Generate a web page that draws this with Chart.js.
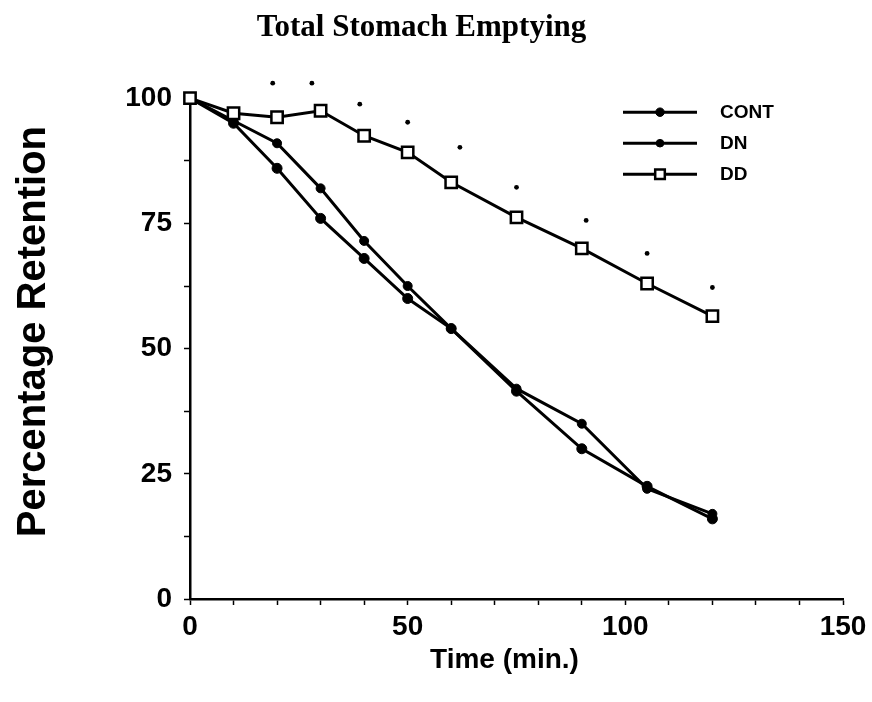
<!DOCTYPE html>
<html lang="en">
<head>
    <meta charset="UTF-8">
    <title>Total Stomach Emptying</title>
    <script src="https://cdn.jsdelivr.net/npm/chart.js"></script>
    <style>
        body {
            margin: 0;
            background: white;
        }
        canvas {
            display: block;
        }
    </style>
</head>
<body>
    <canvas id="emptyingChart" width="872" height="702"></canvas>
    <script>
        // sampling times (min.)
        const times = [0, 10, 20, 30, 40, 50, 60, 75, 90, 105, 120];

        // percentage retention per group
        const contValues = [100, 95, 86, 76, 68, 60, 54, 41.5, 30, 22.5, 16];
        const dnValues = [100, 95.5, 91, 82, 71.5, 62.5, 54, 42, 35, 22, 17];
        const ddValues = [100, 97, 96.2, 97.5, 92.5, 89.2, 83.2, 76.2, 70, 63, 56.5];

        // significance dots above the DD curve
        const sigTimes = [19, 28, 39, 50, 62, 75, 91, 105, 120];
        const sigValues = [103, 103, 98.8, 95.2, 90.2, 82.2, 75.6, 69, 62.2];

        const groupNames = ['CONT', 'DN', 'DD'];
        const yTickLabels = [0, 25, 50, 75, 100];
        const xTickLabels = [0, 50, 100, 150];
        const xTitle = 'Time (min.)';
        const yTitle = 'Percentage Retention';

        const toPoints = (xs, ys) => xs.map((x, i) => ({ x: x, y: ys[i] }));

        const sansFont = "'Liberation Sans', Arial, sans-serif";

        // axis titles, significance dots and the small legend
        const extras = {
            id: 'extras',
            afterDatasetsDraw(chart) {
                const { ctx, chartArea, scales } = chart;
                ctx.save();
                ctx.fillStyle = '#000';

                // dots sit above the plot top, so draw them unclipped
                sigTimes.forEach((t, i) => {
                    ctx.beginPath();
                    ctx.arc(scales.x.getPixelForValue(t), scales.y.getPixelForValue(sigValues[i]), 2.4, 0, Math.PI * 2);
                    ctx.fill();
                });

                ctx.textAlign = 'center';
                ctx.textBaseline = 'middle';
                ctx.font = 'bold 28px ' + sansFont;
                ctx.fillText(xTitle, (chartArea.left + chartArea.right) / 2 - 12, chartArea.bottom + 61);

                ctx.save();
                ctx.translate(34, (chartArea.top + chartArea.bottom) / 2 - 17);
                ctx.rotate(-Math.PI / 2);
                ctx.font = 'bold 40px ' + sansFont;
                ctx.fillText(yTitle, 0, 0);
                ctx.restore();

                // legend: line with the series marker in the middle
                const x0 = chartArea.right - 220;
                const x1 = x0 + 74;
                const mx = (x0 + x1) / 2;
                chart.data.datasets.forEach((ds, i) => {
                    const y = chartArea.top + 14 + i * 31;
                    ctx.strokeStyle = '#000';
                    ctx.lineWidth = 3;
                    ctx.beginPath();
                    ctx.moveTo(x0, y);
                    ctx.lineTo(x1, y);
                    ctx.stroke();
                    ctx.fillStyle = ds.pointBackgroundColor;
                    ctx.lineWidth = ds.pointBorderWidth;
                    Chart.helpers.drawPoint(ctx, {
                        pointStyle: ds.pointStyle,
                        borderWidth: ds.pointBorderWidth,
                        radius: ds.pointRadius * 0.85
                    }, mx, y);
                    ctx.fillStyle = '#000';
                    ctx.font = 'bold 19px ' + sansFont;
                    ctx.textAlign = 'left';
                    ctx.fillText(ds.label, x1 + 23, y + 1);
                });
                ctx.restore();
            }
        };

        const lineStyle = {
            borderColor: '#000',
            borderWidth: 3,
            tension: 0,
            clip: false
        };

        const ctx = document.getElementById('emptyingChart').getContext('2d');
        const chart = new Chart(ctx, {
            type: 'line',
            data: {
                datasets: [
                    Object.assign({}, lineStyle, {
                        label: groupNames[0],
                        data: toPoints(times, contValues),
                        pointStyle: 'circle',
                        pointRadius: 5,
                        pointBackgroundColor: '#000',
                        pointBorderColor: '#000',
                        pointBorderWidth: 1
                    }),
                    Object.assign({}, lineStyle, {
                        label: groupNames[1],
                        data: toPoints(times, dnValues),
                        pointStyle: 'circle',
                        pointRadius: 4.5,
                        pointBackgroundColor: '#000',
                        pointBorderColor: '#000',
                        pointBorderWidth: 1
                    }),
                    Object.assign({}, lineStyle, {
                        label: groupNames[2],
                        data: toPoints(times, ddValues),
                        order: -1,
                        pointStyle: 'rect',
                        pointRadius: 8,
                        pointBackgroundColor: '#fff',
                        pointBorderColor: '#000',
                        pointBorderWidth: 2.5
                    })
                ]
            },
            options: {
                responsive: false,
                animation: false,
                events: [],
                layout: {
                    padding: { left: 0, right: 29, top: 0, bottom: 0 }
                },
                scales: {
                    x: {
                        type: 'linear',
                        min: 0,
                        max: 150,
                        afterFit(scale) { scale.height = 103; },
                        border: { display: true, color: '#000', width: 2.5 },
                        grid: {
                            drawOnChartArea: false,
                            drawTicks: true,
                            tickLength: 6,
                            tickColor: '#000',
                            tickWidth: 1.5
                        },
                        ticks: {
                            stepSize: 10,
                            autoSkip: false,
                            maxRotation: 0,
                            padding: 5,
                            color: '#000',
                            font: { family: sansFont, size: 28, weight: 'bold' },
                            callback: (v) => xTickLabels.includes(v) ? String(v) : ''
                        }
                    },
                    y: {
                        type: 'linear',
                        min: 0,
                        max: 100,
                        afterFit(scale) { scale.width = 190; },
                        border: { display: true, color: '#000', width: 2.5 },
                        grid: {
                            drawOnChartArea: false,
                            drawTicks: true,
                            tickLength: 6,
                            tickColor: '#000',
                            tickWidth: 1.5
                        },
                        ticks: {
                            stepSize: 12.5,
                            autoSkip: false,
                            padding: 12,
                            color: '#000',
                            font: { family: sansFont, size: 28, weight: 'bold' },
                            callback: (v) => yTickLabels.includes(v) ? String(v) : ''
                        }
                    }
                },
                plugins: {
                    legend: { display: false },
                    tooltip: { enabled: false },
                    title: {
                        display: true,
                        text: 'Total Stomach Emptying',
                        color: '#000',
                        font: { family: "'Liberation Serif', 'Times New Roman', serif", size: 31, weight: 'bold' },
                        padding: { top: 9, bottom: 52 }
                    }
                }
            },
            plugins: [extras]
        });
    </script>
</body>
</html>
